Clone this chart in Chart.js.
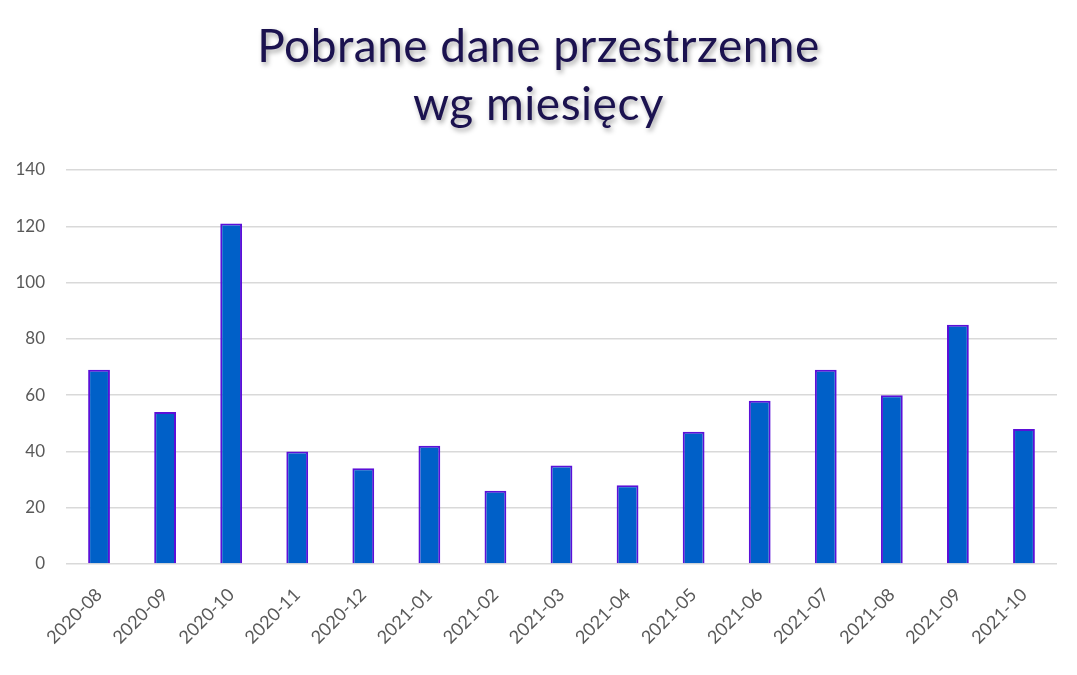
<!DOCTYPE html>
<html>
<head>
<meta charset="utf-8">
<script src="https://cdn.jsdelivr.net/npm/chart.js@4"></script>
<style>
  html, body { margin: 0; padding: 0; background: #fff; }
  #wrap { position: relative; width: 1077px; height: 675px; }
  #title {
    position: absolute; left: 0; top: 16px; width: 1077px;
    text-align: center; font-family: Lato, "Open Sans", sans-serif;
    font-size: 46px; line-height: 58px; color: #1b124f; letter-spacing: 0.5px;
    text-shadow: 2px 3px 5px rgba(0, 0, 0, 0.35);
  }
</style>
</head>
<body>
<div id="wrap">
  <canvas id="chart" width="1077" height="675"></canvas>
  <div id="title">Pobrane dane przestrzenne<br>wg miesięcy</div>
</div>
<script>
// monthly downloads
const months = ['2020-08', '2020-09', '2020-10', '2020-11', '2020-12', '2021-01', '2021-02', '2021-03',
    '2021-04', '2021-05', '2021-06', '2021-07', '2021-08', '2021-09', '2021-10'];
const downloads = [69, 54, 121, 40, 34, 42, 26, 35, 28, 47, 58, 69, 60, 85, 48];
const yTicks = [0, 20, 40, 60, 80, 100, 120, 140];

document.addEventListener('DOMContentLoaded', function () {
    const ctx = document.getElementById('chart').getContext('2d');
    new Chart(ctx, {
        type: 'bar',
        data: {
            labels: months,
            datasets: [{
                data: downloads,
                backgroundColor: '#0060c8',
                borderColor: '#5b10d8',
                borderWidth: 2,
                categoryPercentage: 1,
                barPercentage: 0.33
            }]
        },
        options: {
            responsive: false,
            animation: false,
            layout: { padding: { top: 170, right: 20, left: 0, bottom: 0 } },
            plugins: { legend: { display: false }, tooltip: { enabled: false } },
            scales: {
                x: {
                    grid: { display: false },
                    border: { display: false },
                    ticks: {
                        color: '#595959',
                        font: { family: 'Lato, "Open Sans", sans-serif', size: 18 },
                        minRotation: 45, maxRotation: 45, padding: 12
                    },
                    afterFit: function (scale) { scale.height = 111; }
                },
                y: {
                    min: 0,
                    max: yTicks[yTicks.length - 1],
                    afterBuildTicks: function (scale) {
                        scale.ticks = yTicks.map(v => ({ value: v }));
                    },
                    grid: { color: '#d9d9d9', lineWidth: 1.5, drawTicks: false },
                    border: { display: false },
                    ticks: {
                        color: '#595959',
                        font: { family: 'Lato, "Open Sans", sans-serif', size: 17 },
                        padding: 21
                    },
                    afterFit: function (scale) { scale.width = 66; }
                }
            }
        }
    });
});
</script>
</body>
</html>
